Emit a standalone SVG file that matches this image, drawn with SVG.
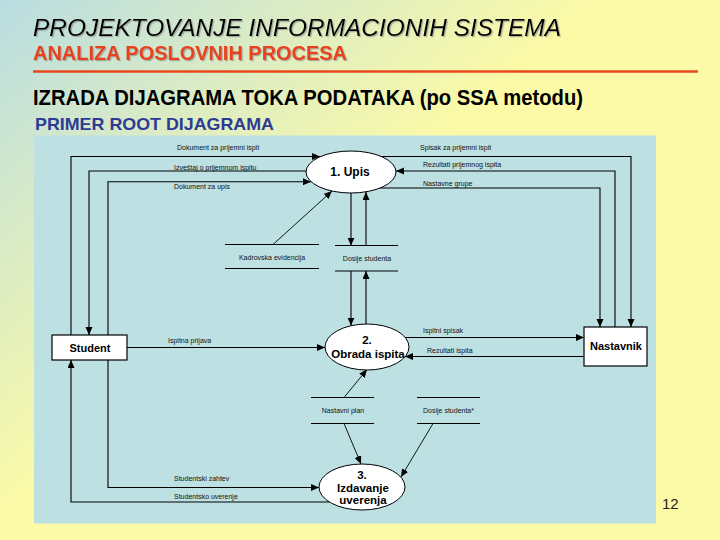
<svg xmlns="http://www.w3.org/2000/svg" width="720" height="540" viewBox="0 0 720 540">
<defs>
<linearGradient id="bg" gradientUnits="userSpaceOnUse" x1="0" y1="0" x2="260" y2="300">
<stop offset="0" stop-color="#b9dde2"/>
<stop offset="1" stop-color="#fcfaa6"/>
</linearGradient>
<filter id="sh" x="-5%" y="-20%" width="110%" height="150%">
<feDropShadow dx="1.2" dy="1.2" stdDeviation="0.4" flood-color="#808080" flood-opacity="0.6"/>
</filter>
<marker id="ah" markerUnits="userSpaceOnUse" markerWidth="9" markerHeight="8" refX="8" refY="3.5" orient="auto">
<path d="M0,0 L8,3.5 L0,7 Z" fill="#000"/>
</marker>
</defs>
<style>
.lbl{font-family:"Liberation Sans",Arial,sans-serif;font-size:7px;fill:#111}
.nm{font-family:"Liberation Sans",Arial,sans-serif;font-weight:bold;fill:#000;text-anchor:middle}
.box{fill:#fff;stroke:#000;stroke-width:1.2}
.proc{fill:#fff;stroke:#000;stroke-width:1}
.st{stroke:#000;stroke-width:1.1;fill:none}
.fl{stroke:#000;stroke-width:1.1;fill:none;marker-end:url(#ah)}
.dg{stroke:#000;stroke-width:0.9;fill:none;marker-end:url(#ah)}
</style>
<rect x="0" y="0" width="720" height="540" fill="url(#bg)"/>
<g id="header">
<text x="33" y="36" font-family="'Liberation Sans',Arial,sans-serif" font-style="italic" font-size="24" fill="#000" textLength="528" lengthAdjust="spacingAndGlyphs" filter="url(#sh)">PROJEKTOVANJE INFORMACIONIH SISTEMA</text>
<text x="33" y="60" font-family="'Liberation Sans',Arial,sans-serif" font-weight="bold" font-size="20" fill="#e8421a" textLength="314" lengthAdjust="spacingAndGlyphs" filter="url(#sh)">ANALIZA POSLOVNIH PROCESA</text>
<line x1="33" y1="71.5" x2="698" y2="71.5" stroke="#e8481c" stroke-width="2.5"/>
<text x="33" y="105" font-family="'Liberation Sans',Arial,sans-serif" font-weight="bold" font-size="22" fill="#000" textLength="550" lengthAdjust="spacingAndGlyphs">IZRADA DIJAGRAMA TOKA PODATAKA (po SSA metodu)</text>
<text x="35" y="130" font-family="'Liberation Sans',Arial,sans-serif" font-weight="bold" font-size="17" fill="#2e3a96" textLength="239" lengthAdjust="spacingAndGlyphs">PRIMER ROOT DIJAGRAMA</text>
</g>
<rect id="panel" x="34" y="135.5" width="622" height="388" fill="#bde0e3"/>
<g id="connectors">
<path class="fl" d="M71,335 V156.5 H320"/>
<path class="fl" d="M306,171 H89 V335"/>
<path class="fl" d="M108,335 V181.7 H311"/>
<path class="fl" d="M381.4,156.5 H631 V327"/>
<path class="fl" d="M615,327 V171 H396"/>
<path class="fl" d="M380,188 H600 V327"/>
<path class="dg" d="M273,244.5 L332,191"/>
<path class="fl" d="M351,193 V245.5"/>
<path class="fl" d="M366,245.5 V192"/>
<path class="fl" d="M351,271 V325.5"/>
<path class="fl" d="M366,324.5 V271"/>
<path class="fl" d="M127,347.5 H325"/>
<path class="fl" d="M405,337.5 H584"/>
<path class="fl" d="M584,356.5 H405"/>
<path class="dg" d="M344,397.5 L367,369.5"/>
<path class="dg" d="M344,423.5 L361,464"/>
<path class="dg" d="M433,423.5 L401,477"/>
<path class="fl" d="M108,360 V487.5 H319"/>
<path class="fl" d="M329.4,502 H71 V360"/>
<text class="lbl" x="177" y="150">Dokument za prijemni ispit</text>
<text class="lbl" x="174" y="169.5">Izveštaj o prijemnom ispitu</text>
<text class="lbl" x="174" y="189">Dokument za upis</text>
<text class="lbl" x="420" y="150">Spisak za prijemni ispit</text>
<text class="lbl" x="423" y="166.5">Rezultati prijemnog ispita</text>
<text class="lbl" x="423" y="185.5">Nastavne grupe</text>
<text class="lbl" x="168" y="343">Ispitna prijava</text>
<text class="lbl" x="423" y="333">Ispitni spisak</text>
<text class="lbl" x="427" y="352.5">Rezultati ispita</text>
<text class="lbl" x="174" y="480.5">Studentski zahtev</text>
<text class="lbl" x="174" y="498.5">Studentsko uverenje</text>
</g>
<g id="student">
<rect class="box" x="52" y="335" width="75" height="25"/>
<text class="nm" x="90" y="351.5" font-size="11">Student</text>
</g>
<g id="nastavnik">
<rect class="box" x="584" y="327" width="63" height="39"/>
<text class="nm" x="616" y="350" font-size="11">Nastavnik</text>
</g>
<g id="p1">
<ellipse class="proc" cx="351" cy="172" rx="45" ry="21"/>
<text class="nm" x="350" y="176" font-size="12">1. Upis</text>
</g>
<g id="p2">
<ellipse class="proc" cx="367" cy="347" rx="42" ry="23"/>
<text class="nm" x="367" y="344" font-size="11.5">2.</text>
<text class="nm" x="368" y="357.5" font-size="11.5">Obrada ispita</text>
</g>
<g id="p3">
<ellipse class="proc" cx="362" cy="487" rx="43" ry="23"/>
<text class="nm" x="362" y="479" font-size="11.5">3.</text>
<text class="nm" x="363" y="491.5" font-size="11.5">Izdavanje</text>
<text class="nm" x="363" y="504" font-size="11.5">uverenja</text>
</g>
<g id="ds-kadrovska">
<line class="st" x1="225" y1="244.5" x2="319" y2="244.5"/>
<line class="st" x1="225" y1="268.5" x2="319" y2="268.5"/>
<text class="lbl" x="272" y="260" text-anchor="middle">Kadrovska evidencija</text>
</g>
<g id="ds-dosije">
<line class="st" x1="335" y1="245.5" x2="398" y2="245.5"/>
<line class="st" x1="335" y1="271" x2="398" y2="271"/>
<text class="lbl" x="367" y="260.5" text-anchor="middle">Dosije studenta</text>
</g>
<g id="ds-nastavni-plan">
<line class="st" x1="311" y1="397.5" x2="374" y2="397.5"/>
<line class="st" x1="311" y1="423.5" x2="374" y2="423.5"/>
<text class="lbl" x="343" y="412.5" text-anchor="middle">Nastavni plan</text>
</g>
<g id="ds-dosije2">
<line class="st" x1="417" y1="397.5" x2="480" y2="397.5"/>
<line class="st" x1="417" y1="423.5" x2="480" y2="423.5"/>
<text class="lbl" x="448.5" y="412.5" text-anchor="middle">Dosije studenta*</text>
</g>
<text x="662" y="508.5" font-family="'Liberation Sans',Arial,sans-serif" font-size="15" fill="#222">12</text>
</svg>
